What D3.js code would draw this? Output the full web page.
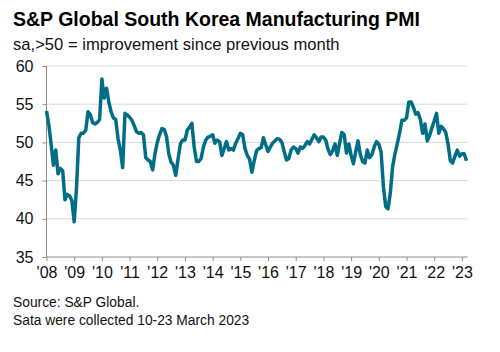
<!DOCTYPE html>
<html>
<head>
<meta charset="utf-8">
<script src="https://cdn.jsdelivr.net/npm/d3@7"></script>
<style>
  body { margin: 0; background: #fff; }
  svg { display: block; font-family: "Liberation Sans", Arial, sans-serif; }
</style>
</head>
<body>
<script>
// monthly PMI, Jan 2008 .. Mar 2023
const startYear = 2008;
const pmi = [
  54.1, 52.3, 49.8, 47.0, 49.0, 45.9, 46.6, 46.3, 42.5, 43.2, 43.0, 42.4, // 2008
  39.6, 44.0, 50.6, 51.2, 51.2, 51.6, 54.0, 53.6, 52.6, 52.4, 52.6, 53.0, // 2009
  58.3, 55.8, 57.1, 55.3, 54.0, 53.2, 53.0, 50.5, 49.0, 46.7, 53.8, 53.6, // 2010
  53.3, 52.9, 52.2, 51.4, 51.2, 51.3, 51.0, 48.0, 47.7, 47.5, 46.4, 48.5, // 2011
  50.0, 51.0, 51.8, 51.7, 50.8, 48.5, 47.4, 47.0, 45.7, 47.8, 49.8, 50.3, // 2012
  50.3, 51.6, 52.0, 52.5, 49.4, 47.5, 47.5, 47.9, 49.4, 50.3, 50.7, 50.8, // 2013
  51.0, 49.9, 50.3, 50.1, 48.3, 49.2, 50.1, 49.0, 49.2, 49.0, 49.9, 50.5, // 2014
  51.2, 51.0, 49.2, 48.3, 47.8, 46.1, 47.6, 48.9, 49.2, 49.3, 50.6, 49.7, // 2015
  48.8, 49.4, 49.9, 50.2, 50.5, 50.4, 50.0, 48.8, 47.7, 47.9, 49.0, 49.4, // 2016
  49.2, 48.6, 49.4, 49.2, 49.6, 50.1, 49.8, 50.4, 51.0, 50.6, 50.1, 50.7, // 2017
  50.7, 50.3, 49.1, 48.4, 48.9, 49.8, 48.3, 49.9, 51.3, 51.0, 48.6, 49.8, // 2018
  48.3, 47.2, 48.8, 50.2, 48.4, 47.5, 47.3, 49.0, 48.0, 48.4, 49.4, 50.1, // 2019
  49.8, 48.7, 44.2, 41.6, 41.3, 43.4, 46.9, 48.5, 49.8, 51.2, 52.9, 52.9, // 2020
  53.2, 55.3, 55.3, 54.6, 53.7, 53.9, 53.0, 51.2, 52.4, 50.2, 50.9, 51.9, // 2021
  52.8, 53.8, 51.2, 52.1, 51.8, 51.3, 49.8, 47.6, 47.3, 48.2, 49.0, 48.2, // 2022
  48.5, 48.5, 47.6                                                        // 2023
];
const yearTicks = d3.range(2008, 2024);
const yTicks = [35, 40, 45, 50, 55, 60];

const title = "S&P Global South Korea Manufacturing PMI";
const subtitle = "sa,>50 = improvement since previous month";
const notes = ["Source: S&P Global.", "Sata were collected 10-23 March 2023"];

const width = 500;
const height = 352;
const marginLeft = 46.5;
const plotRight = 466.5;
const plotTop = 66;
const plotBottom = 257;

const data = pmi.map((v, i) => ({ m: i, v: v }));

const x = d3.scaleLinear()
    .domain([0, pmi.length - 1])
    .range([marginLeft, plotRight]);

const y = d3.scaleLinear()
    .domain([35, 60])
    .range([plotBottom, plotTop]);

const svg = d3.select("body")
  .append("svg")
    .attr("width", width)
    .attr("height", height)
    .attr("viewBox", [0, 0, width, height]);

// gridlines
svg.append("g")
  .selectAll("line")
  .data(yTicks.filter(d => d > 35))
  .join("line")
    .attr("x1", marginLeft)
    .attr("x2", plotRight + 1)
    .attr("y1", d => y(d))
    .attr("y2", d => y(d))
    .attr("stroke", "#d9d9d9")
    .attr("stroke-width", 1);

// y axis
svg.append("g")
    .attr("transform", `translate(${marginLeft},0)`)
    .call(d3.axisLeft(y).tickValues(yTicks).tickSize(4).tickPadding(9))
    .call(g => g.selectAll("path, line").attr("stroke", "#8c8c8c"))
    .call(g => g.select(".domain").attr("d", `M0,${plotTop}V${plotBottom}`))
    .call(g => g.selectAll("text")
        .attr("fill", "#111")
        .attr("font-size", 16)
        .attr("font-family", "Liberation Sans, Arial, sans-serif"));

// x axis
svg.append("g")
    .attr("transform", `translate(0,${plotBottom})`)
    .call(d3.axisBottom(x)
        .tickValues(yearTicks.map(yr => (yr - startYear) * 12))
        .tickFormat(m => "'" + String(startYear + m / 12).slice(2))
        .tickSize(4)
        .tickPadding(6))
    .call(g => g.selectAll("path, line").attr("stroke", "#8c8c8c"))
    .call(g => g.select(".domain").attr("d", `M${marginLeft},0H${plotRight + 1}`))
    .call(g => g.selectAll("text")
        .attr("fill", "#111")
        .attr("font-size", 16)
        .attr("font-family", "Liberation Sans, Arial, sans-serif"));

// the PMI line
svg.append("path")
    .datum(data)
    .attr("fill", "none")
    .attr("stroke", "#006e87")
    .attr("stroke-width", 3.5)
    .attr("stroke-linejoin", "round")
    .attr("d", d3.line().x(d => x(d.m)).y(d => y(d.v)));

// titles
svg.append("text")
    .attr("x", 13)
    .attr("y", 26)
    .attr("font-size", 19.5)
    .attr("font-weight", "bold")
    .attr("fill", "#000")
    .text(title);

svg.append("text")
    .attr("x", 13)
    .attr("y", 50)
    .attr("font-size", 16.6)
    .attr("fill", "#111")
    .text(subtitle);

svg.append("g")
  .selectAll("text")
  .data(notes)
  .join("text")
    .attr("x", 13)
    .attr("y", (d, i) => 307 + i * 17.5)
    .attr("font-size", 13.8)
    .attr("fill", "#111")
    .text(d => d);
</script>
</body>
</html>
